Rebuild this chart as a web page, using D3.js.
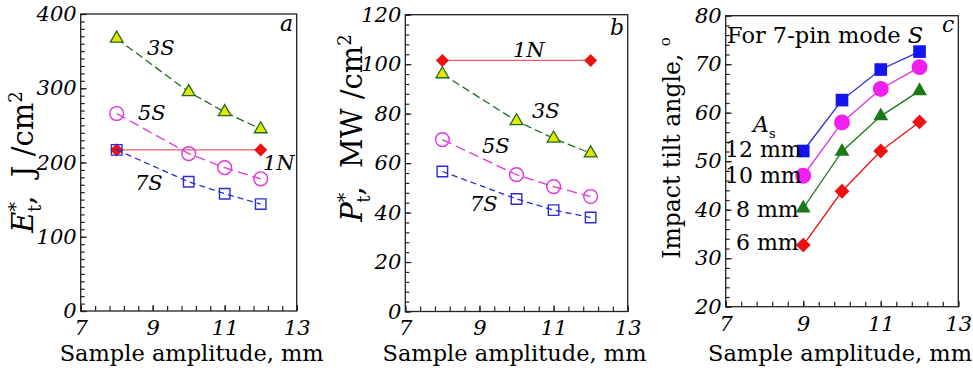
<!DOCTYPE html>
<html>
<head>
<meta charset="utf-8">
<script src="https://cdn.jsdelivr.net/npm/d3@7"></script>
<style>
  body { margin: 0; background: #fff; }
  svg { display: block; font-family: "DejaVu Serif", serif; }
</style>
</head>
<body>
<svg id="chart" width="973" height="376"></svg>
<script>
// ---- data ----
const xAB = [8, 10, 11, 12];
const xN = [8, 12];
const xC = [9, 10, 11, 12];

// panel a: E*t, J/cm2
const a3S = [367, 295, 268, 245];
const a5S = [266, 212, 193, 178];
const a7S = [217, 174, 158, 144];
const a1N = [217, 217];

// panel b: P*t, MW/cm2
const b3S = [96, 77, 70, 64];
const b5S = [69.5, 55.3, 50.5, 46.5];
const b7S = [56.6, 45.5, 41, 38];
const b1N = [101.5, 101.5];

// panel c: impact tilt angle, deg
const c12 = [52.1, 62.6, 68.9, 72.6];
const c10 = [47.0, 58.0, 64.9, 69.4];
const c8 = [40.3, 52.0, 59.3, 64.5];
const c6 = [32.7, 43.8, 52.1, 58.1];

const xTicks = [7, 9, 11, 13];

const svg = d3.select("#chart");

const green = "#1f6b1f", yellow = "#e6e600", magenta = "#e033e0",
      blue = "#2b2bd6", red = "#ee1111";

// square rotated 45 deg for diamonds
function marker(g, shape, size, x, y, fill, stroke, sw) {
  let type = {tri: d3.symbolTriangle, sq: d3.symbolSquare, circ: d3.symbolCircle, dia: d3.symbolSquare}[shape];
  g.append("path")
    .attr("d", d3.symbol().type(type).size(size)())
    .attr("transform", "translate(" + x + "," + y + ")" + (shape == "dia" ? " rotate(45)" : ""))
    .attr("fill", fill)
    .attr("stroke", stroke)
    .attr("stroke-width", sw);
}

function panel(opt) {
  const g = svg.append("g");
  const x = d3.scaleLinear().domain([7, 13]).range([opt.left, opt.right]);
  const y = d3.scaleLinear().domain(opt.yDomain).range([opt.bottom, opt.top]);

  // frame
  g.append("rect")
    .attr("x", opt.left).attr("y", opt.top)
    .attr("width", opt.right - opt.left).attr("height", opt.bottom - opt.top)
    .attr("fill", "none").attr("stroke", "#222").attr("stroke-width", 1.3);

  // minor ticks (inward)
  g.append("g")
    .attr("transform", "translate(0," + opt.bottom + ")")
    .call(d3.axisBottom(x).tickValues(d3.range(7, 13.01, 0.4)).tickSize(-5).tickFormat(""))
    .call(a => a.select(".domain").remove());
  g.append("g")
    .attr("transform", "translate(" + opt.left + ",0)")
    .call(d3.axisLeft(y).tickValues(d3.range(opt.yDomain[0], opt.yDomain[1] + 0.01, opt.yMinor)).tickSize(-4).tickFormat(""))
    .call(a => a.select(".domain").remove());

  // major ticks with labels
  const xa = g.append("g")
    .attr("transform", "translate(0," + opt.bottom + ")")
    .call(d3.axisBottom(x).tickValues(xTicks).tickSize(-6).tickPadding(9).tickFormat(d3.format("d")));
  xa.select(".domain").remove();
  const ya = g.append("g")
    .attr("transform", "translate(" + opt.left + ",0)")
    .call(d3.axisLeft(y).tickValues(opt.yTicks).tickSize(-6).tickPadding(4).tickFormat(d3.format("d")));
  ya.select(".domain").remove();
  g.selectAll(".tick line").attr("stroke", "#222").attr("stroke-width", 1.2);
  g.selectAll(".tick text")
    .attr("fill", "#000")
    .style("font-family", "DejaVu Serif")
    .style("font-style", "italic")
    .style("font-size", "21px");

  // x title
  g.append("text")
    .attr("x", (opt.left + opt.right) / 2 + opt.xtOff)
    .attr("y", 361)
    .attr("text-anchor", "middle")
    .style("font-size", "22.5px")
    .attr("fill", "#000")
    .text("Sample amplitude, mm");

  return {g, x, y};
}

function series(p, xs, ys, color, dash, shape, size, fill, sw) {
  const line = d3.line().x((d, i) => p.x(xs[i])).y(d => p.y(d));
  p.g.append("path")
    .datum(ys)
    .attr("d", line)
    .attr("fill", "none")
    .attr("stroke", color)
    .attr("stroke-width", 1.3)
    .attr("stroke-dasharray", dash);
  ys.forEach((v, i) => marker(p.g, shape, size, p.x(xs[i]), p.y(v), fill, color, sw));
}

function label(g, x, y, txt, style, size) {
  const t = g.append("text").attr("x", x).attr("y", y)
    .style("font-size", (size || 21) + "px").attr("fill", "#000");
  if (style) t.style("font-style", style);
  t.text(txt);
  return t;
}

// y title with star superscript and t subscript
function yTitle(x, y, letter, rest) {
  const t = svg.append("text")
    .attr("transform", "translate(" + x + "," + y + ") rotate(-90)")
    .attr("text-anchor", "middle")
    .style("font-size", "29px").attr("fill", "#000");
  t.append("tspan").style("font-style", "italic").text(letter);
  t.append("tspan").attr("dy", -11).style("font-size", "19px").text("*");
  t.append("tspan").attr("dx", -10).attr("dy", 19).style("font-size", "18px").text("t");
  t.append("tspan").attr("dy", -8).text(rest);
  t.append("tspan").attr("dy", -11).style("font-size", "18px").text("2");
}

// ---------- panel a ----------
const pa = panel({left: 80.7, right: 296.7, top: 14, bottom: 311, yDomain: [0, 400], yTicks: [0, 100, 200, 300, 400], yMinor: 10, xtOff: 3});
series(pa, xN, a1N, "#e06060", null, "dia", 85, red, 0);
series(pa, xAB, a3S, green, "8,4", "tri", 70, yellow, 1.3);
series(pa, xAB, a5S, magenta, "10,5", "circ", 150, "none", 1.4);
series(pa, xAB, a7S, blue, "6,4", "sq", 110, "none", 1.4);
label(pa.g, 147, 55, "3S", "italic");
label(pa.g, 138, 120, "5S", "italic");
label(pa.g, 135, 190, "7S", "italic");
label(pa.g, 263, 170, "1N", "italic");
label(pa.g, 280, 31, "a", "italic", 22);
yTitle(33, 162, "E", ",\u00a0 J /cm");

// ---------- panel b ----------
const pb = panel({left: 405.3, right: 627.7, top: 14.7, bottom: 311.5, yDomain: [0, 120], yTicks: [0, 20, 40, 60, 80, 100, 120], yMinor: 4, xtOff: -2});
series(pb, xN, b1N, "#e06060", null, "dia", 85, red, 0);
series(pb, xAB, b3S, green, "8,4", "tri", 70, yellow, 1.3);
series(pb, xAB, b5S, magenta, "10,5", "circ", 150, "none", 1.4);
series(pb, xAB, b7S, blue, "6,4", "sq", 110, "none", 1.4);
label(pb.g, 513, 57, "1N", "italic");
label(pb.g, 532, 118, "3S", "italic");
label(pb.g, 482, 153, "5S", "italic");
label(pb.g, 470, 211, "7S", "italic");
label(pb.g, 610, 35, "b", "italic", 22);
yTitle(362, 128, "P", ",\u00a0 MW /cm");

// ---------- panel c ----------
const pc = panel({left: 725.7, right: 958.3, top: 15.7, bottom: 306.7, yDomain: [20, 80], yTicks: [20, 30, 40, 50, 60, 70, 80], yMinor: 2, xtOff: -2});
series(pc, xC, c6, red, null, "dia", 110, red, 0);
series(pc, xC, c8, "#1a7a1a", null, "tri", 95, "#1a7a1a", 0);
series(pc, xC, c10, magenta, null, "circ", 200, "#f020f0", 0);
series(pc, xC, c12, blue, null, "sq", 160, "#1515ee", 0);

const tc = label(pc.g, 727, 43, "For 7-pin mode ", null, 22.5);
tc.append("tspan").style("font-style", "italic").text("S");
label(pc.g, 942, 32, "c", "italic", 22);
const asl = label(pc.g, 753, 132, "A", "italic", 22);
asl.append("tspan").attr("dy", 6).style("font-size", "13px").style("font-style", "normal").text("s");
label(pc.g, 725, 157, "12 mm", null, 22);
label(pc.g, 725, 183, "10 mm", null, 22);
label(pc.g, 736, 217, "8 mm", null, 22);
label(pc.g, 736, 250, "6 mm", null, 22);

const tcy = svg.append("text")
  .attr("transform", "translate(680,148) rotate(-90)")
  .attr("text-anchor", "middle")
  .style("font-size", "23.5px").attr("fill", "#000");
tcy.append("tspan").text("Impact tilt angle, ");
tcy.append("tspan").attr("dy", -10).style("font-size", "15px").text("o");
</script>
</body>
</html>
